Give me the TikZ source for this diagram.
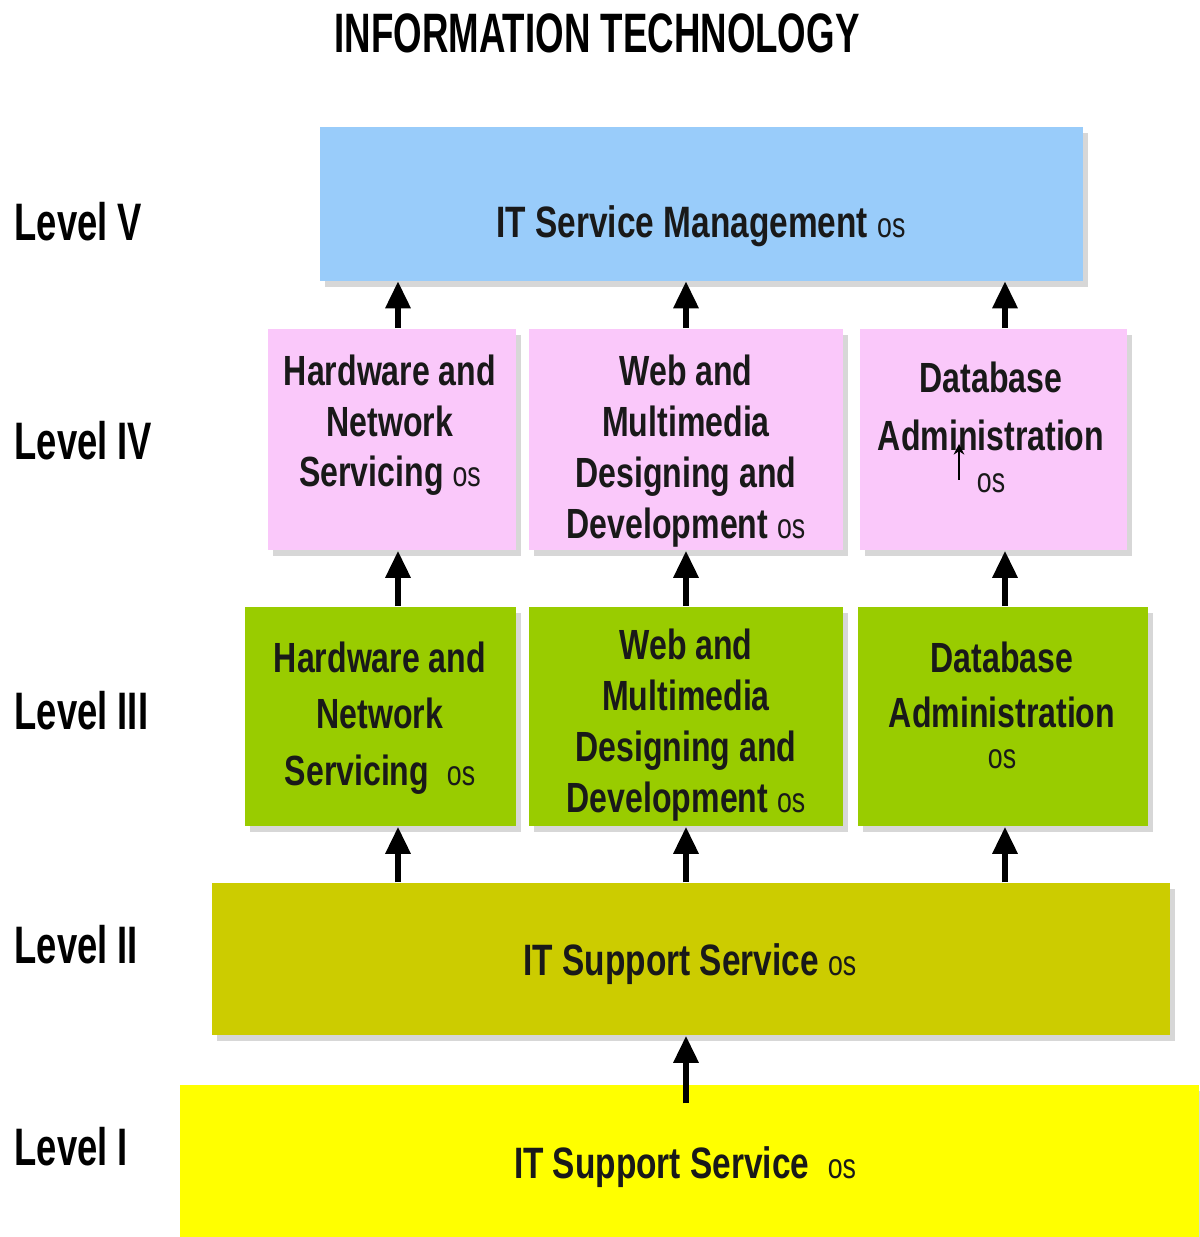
\documentclass[tikz,border=0pt]{standalone}
\usepackage{fontspec}
\usepackage{tikz}
\usepackage{xcolor}
\usetikzlibrary{
    arrows.meta,
    shadows,
    calc,
    positioning
}
\newfontfamily\itfont[FakeStretch=0.76]{Liberation Sans}
\newfontfamily\lvlfont[FakeStretch=0.69]{Liberation Sans}
\newfontfamily\ttlfont[FakeStretch=0.66]{Liberation Sans}
\newcommand{\osmark}{{\mdseries\fontsize{10}{10}\selectfont os}}
\definecolor{lvlblue}{RGB}{153,204,250}
\definecolor{lvlpink}{RGB}{250,200,250}
\definecolor{lvlgreen}{RGB}{153,204,0}
\definecolor{lvlolive}{RGB}{204,204,0}
\definecolor{lvlyellow}{RGB}{255,255,0}
\tikzset{itbox/.style={rectangle, inner sep=0pt, draw=none,
            drop shadow={shadow xshift=0.05cm, shadow yshift=-0.06cm, fill=black!45, opacity=0.35}},
         boxtxt/.style={anchor=base, inner sep=0pt, align=center, text=black!90,
            font=\itfont\bfseries\fontsize{12}{14.5}\selectfont},
         bigtxt/.style={boxtxt, font=\itfont\bfseries\fontsize{12.5}{15}\selectfont},
         lvltxt/.style={anchor=base west, inner sep=0pt, font=\lvlfont\bfseries\fontsize{15}{18}\selectfont},
         uparrow/.style={line width=0.06cm, -{Triangle[width=0.24cm, length=0.27cm]}}}

\begin{document}
\begin{tikzpicture}[x=0.01cm, y=-0.01cm]
                        \useasboundingbox (0,0) rectangle (1199,1237);
                        \node[anchor=base, inner sep=0pt, font=\ttlfont\bfseries\fontsize{15.8}{18}\selectfont] (title) at (597, 53) {INFORMATION TECHNOLOGY};
                        \node[lvltxt] (l5) at (14, 241) {Level V};
                        \node[lvltxt] (l4) at (14, 460) {Level IV};
                        \node[lvltxt] (l3) at (14, 729) {Level III};
                        \node[lvltxt] (l2) at (14, 963) {Level II};
                        \node[lvltxt] (l1) at (14, 1165) {Level I};
                        \node[itbox, fill=lvlyellow, minimum width=10.19cm, minimum height=1.52cm] (sup1) at (689.5, 1161) {};
                        \node[itbox, fill=lvlolive, minimum width=9.58cm, minimum height=1.52cm] (sup2) at (691, 959) {};
                        \node[itbox, fill=lvlgreen, minimum width=2.71cm, minimum height=2.19cm] (hw3) at (380.5, 716.5) {};
                        \node[itbox, fill=lvlgreen, minimum width=3.14cm, minimum height=2.19cm] (web3) at (686, 716.5) {};
                        \node[itbox, fill=lvlgreen, minimum width=2.90cm, minimum height=2.19cm] (db3) at (1003, 716.5) {};
                        \node[itbox, fill=lvlpink, minimum width=2.48cm, minimum height=2.21cm] (hw4) at (392, 439.5) {};
                        \node[itbox, fill=lvlpink, minimum width=3.14cm, minimum height=2.21cm] (web4) at (686, 439.5) {};
                        \node[itbox, fill=lvlpink, minimum width=2.67cm, minimum height=2.21cm] (db4) at (993.5, 439.5) {};
                        \node[itbox, fill=lvlblue, minimum width=7.63cm, minimum height=1.53cm] (itsm) at (701.5, 204) {};
                        \node[bigtxt] (itsmtxt) at (701, 238) {IT Service Management \osmark};
                        \node[boxtxt] (hw4txt) at (390, 487) {Hardware and\\Network\\Servicing \osmark};
                        \node[boxtxt] (web4txt) at (686, 538) {Web and\\Multimedia\\Designing and\\Development \osmark};
                        \node[boxtxt] (db4txt) at (991, 492) {Database\\[2pt]Administration\\[-2.6pt]\osmark};
                        \node[boxtxt] (hw3txt) at (380, 785) {Hardware and\\[1.5pt]Network\\[1.5pt]Servicing\ \ \osmark};
                        \node[boxtxt] (web3txt) at (686, 812) {Web and\\Multimedia\\Designing and\\Development \osmark};
                        \node[boxtxt] (db3txt) at (1002, 768) {Database\\[1.1pt]Administration\\[-2.9pt]\osmark};
                        \node[bigtxt] (sup2txt) at (690, 975) {IT Support Service \osmark};
                        \node[bigtxt] (sup1txt) at (685, 1178) {IT Support Service\ \ \osmark};
                        \coordinate (col1) at (398, 0);
                        \coordinate (col2) at (686, 0);
                        \coordinate (col3) at (1005, 0);
                        \coordinate (curs1) at (959, 480);
                        \coordinate (curs2) at (959, 444);
                        \draw[uparrow] (col1 |- hw4.north) -- (col1 |- itsm.south);
                        \draw[uparrow] (col2 |- web4.north) -- (col2 |- itsm.south);
                        \draw[uparrow] (col3 |- db4.north) -- (col3 |- itsm.south);
                        \draw[uparrow] (col1 |- hw3.north) -- (col1 |- hw4.south);
                        \draw[uparrow] (col2 |- web3.north) -- (col2 |- web4.south);
                        \draw[uparrow] (col3 |- db3.north) -- (col3 |- db4.south);
                        \draw[uparrow] (col1 |- sup2.north) -- (col1 |- hw3.south);
                        \draw[uparrow] (col2 |- sup2.north) -- (col2 |- web3.south);
                        \draw[uparrow] (col3 |- sup2.north) -- (col3 |- db3.south);
                        \draw[uparrow, shorten <=-0.19cm] (col2 |- sup1.north) -- (col2 |- sup2.south);
                        \draw[line width=0.6pt, -{Stealth[length=3pt, width=3pt]}] (curs1) -- (curs2);
                    \end{tikzpicture}
\end{document}
